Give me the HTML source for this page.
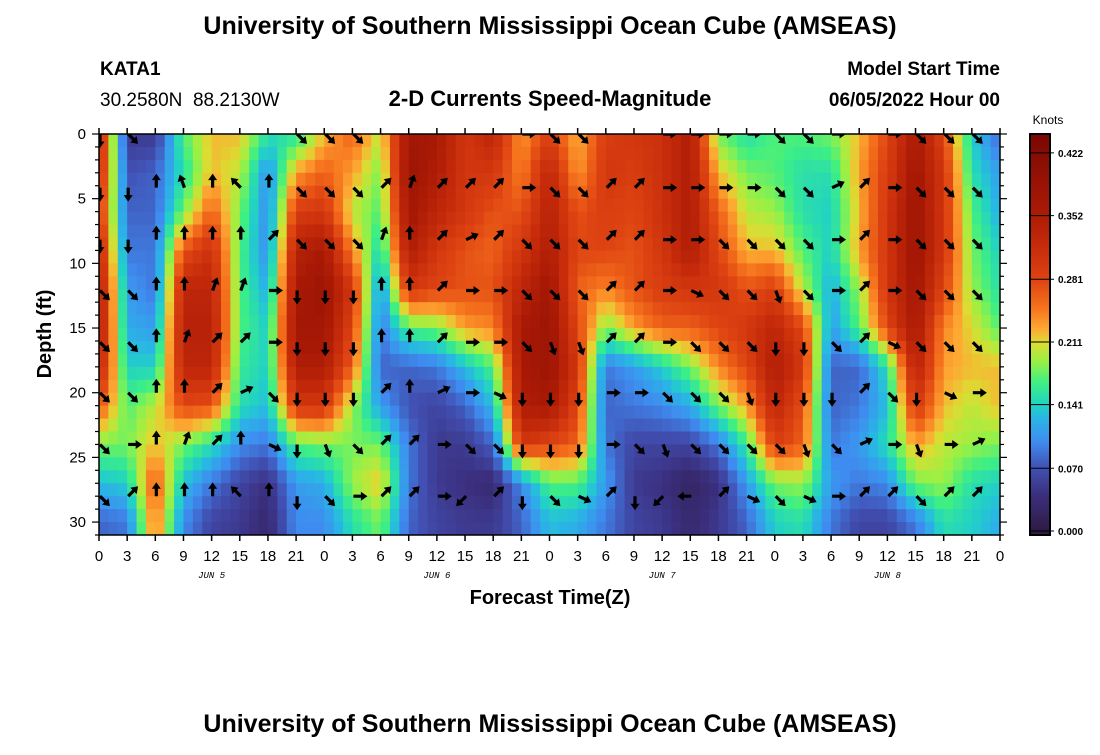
<!DOCTYPE html>
<html><head><meta charset="utf-8"><style>
body{margin:0;background:#fff;width:1100px;height:750px;overflow:hidden;font-family:"Liberation Sans",sans-serif;}
</style></head><body>
<svg id="chart" width="1100" height="750" xmlns="http://www.w3.org/2000/svg" font-family="Liberation Sans, sans-serif">
<text x="550" y="34" font-size="25" font-weight="bold" text-anchor="middle">University of Southern Mississippi Ocean Cube (AMSEAS)</text>
<text x="100" y="75" font-size="19" font-weight="bold">KATA1</text>
<text x="100" y="106" font-size="19">30.2580N&#160; 88.2130W</text>
<text x="550" y="106" font-size="22" font-weight="bold" text-anchor="middle">2-D Currents Speed-Magnitude</text>
<text x="1000" y="75" font-size="19" font-weight="bold" text-anchor="end">Model Start Time</text>
<text x="1000" y="106" font-size="19" font-weight="bold" text-anchor="end">06/05/2022 Hour 00</text>
<defs><clipPath id="pc"><rect x="99" y="134" width="901" height="401"/></clipPath></defs>
<g id="heat" clip-path="url(#pc)"></g>
<g id="arrows" clip-path="url(#pc)"></g>
<rect x="99" y="134" width="901" height="401" fill="none" stroke="#000" stroke-width="1.5"/>
<g id="axes" font-size="15"></g>
<text transform="translate(51,334) rotate(-90)" font-size="20" font-weight="bold" text-anchor="middle">Depth (ft)</text>
<text x="550" y="604" font-size="20" font-weight="bold" text-anchor="middle">Forecast Time(Z)</text>
<g id="cbar"></g>
<text x="1048" y="124" font-size="12" text-anchor="middle">Knots</text>
<text x="550" y="732" font-size="25" font-weight="bold" text-anchor="middle">University of Southern Mississippi Ocean Cube (AMSEAS)</text>
</svg>
<script>
// time index every 3 h (0..32), depth rows (ft)
const depthRows=[0,3,6,9,12,15,18,21,24,27,30];
const speeds=[
[.33,.32,.30,.33,.35,.35,.33,.27,.18,.13,.08],
[.05,.07,.08,.09,.11,.12,.14,.17,.18,.14,.09],
[.05,.08,.08,.09,.09,.11,.14,.20,.22,.27,.25],
[.17,.15,.18,.27,.33,.34,.33,.28,.18,.13,.10],
[.22,.22,.26,.31,.33,.34,.33,.27,.15,.09,.06],
[.22,.20,.18,.17,.17,.17,.16,.15,.10,.06,.05],
[.15,.10,.10,.10,.12,.14,.14,.13,.09,.04,.03],
[.15,.23,.29,.34,.36,.37,.35,.30,.17,.11,.10],
[.22,.26,.30,.36,.38,.37,.35,.30,.18,.12,.10],
[.26,.23,.20,.24,.30,.28,.26,.19,.18,.19,.15],
[.20,.18,.17,.14,.10,.09,.08,.11,.18,.22,.18],
[.37,.38,.37,.35,.30,.17,.08,.07,.09,.09,.08],
[.36,.35,.33,.30,.28,.18,.09,.06,.05,.05,.06],
[.30,.30,.30,.27,.27,.23,.13,.08,.05,.04,.05],
[.33,.30,.27,.26,.27,.24,.17,.13,.08,.03,.05],
[.23,.24,.27,.30,.33,.36,.36,.35,.30,.10,.08],
[.29,.33,.34,.35,.37,.38,.38,.36,.28,.17,.13],
[.22,.23,.27,.28,.26,.28,.30,.28,.26,.17,.12],
[.29,.30,.29,.28,.24,.18,.09,.08,.09,.11,.09],
[.30,.29,.28,.27,.27,.23,.11,.09,.06,.05,.06],
[.31,.31,.31,.30,.29,.26,.14,.10,.06,.04,.05],
[.35,.35,.35,.35,.30,.26,.18,.12,.06,.02,.03],
[.18,.22,.26,.28,.30,.28,.24,.18,.09,.04,.05],
[.15,.18,.20,.22,.27,.30,.28,.23,.16,.11,.08],
[.17,.17,.19,.22,.29,.33,.35,.33,.29,.18,.14],
[.17,.15,.15,.17,.20,.28,.30,.27,.26,.19,.15],
[.18,.15,.14,.14,.12,.11,.08,.08,.09,.11,.09],
[.22,.23,.22,.23,.19,.17,.08,.09,.11,.09,.06],
[.28,.29,.30,.30,.30,.28,.15,.13,.15,.10,.06],
[.36,.37,.38,.38,.37,.36,.34,.30,.23,.18,.09],
[.28,.30,.30,.30,.28,.24,.23,.22,.20,.19,.15],
[.14,.15,.17,.18,.19,.21,.22,.20,.19,.15,.14],
[.08,.11,.12,.14,.15,.17,.22,.22,.18,.14,.12]
];
const arrowDepths=[0,4.15,8.17,12.1,16.1,20,24,28];
const arrowDirs=[
"S SE N N N N N SE SE SE NE N NE NE NE E SE SE NE NE E E E E SE SE E NE E SE SE SE SE",
"S S N NNW N NW N SE SE SE NE NNE NE NE NE E SE SE NE NE E E E E SE SE ENE NE E SE SE SE SE",
"S S N N N N NE SE SE SE NNE N NE ENE NE SE SE SE NE NE E E SE SE SE SE E NE E SE SE SE E",
"SE SE N N NNE NNE E S S S N N NE E E SE SE SE NE NE E ESE SE SE SSE SE E NE E SE SE SE SE",
"SE SE N NNE NE NE E S S S N N NE E E SE SSE SSE NE NE E SE SE SE S S SE NE ESE SE SE SE SE",
"SE SE N N NE ENE SE S S S NE N ENE E ESE S S S E E SE SE SE SSE S S S NE SE S ESE E E",
"SE E N NNE NE N ESE S SSE SE NE NE E SE SE S S S E SE SSE SE SE SE SE SSE SE ENE E SSE E ENE ENE",
"SE NE N N N NW N S SE E NE NE E SW NE S SE ESE NE S SW W NE ESE SE ESE E NE NE SE NE NE NE"
];
const xTickLabels=["0","3","6","9","12","15","18","21"];
const dayLabels=["JUN 5","JUN 6","JUN 7","JUN 8"];
const yTicks=[0,5,10,15,20,25,30];
const cbTicks=[0.000,0.070,0.141,0.211,0.281,0.352,0.422];

const NS="http://www.w3.org/2000/svg";
const X0=99,X1=1000,Y0=134,PXH=(X1-X0)/96,PXF=401/31;
const xScale=h=>X0+h*PXH;
const yScale=d=>Y0+d*PXF;
const stops=[[0,"#2e1a44"],[.04,"#3b2f7e"],[.07,"#4150b2"],[.10,"#3f8cf0"],[.125,"#2ab4e6"],[.141,"#22d2c4"],[.165,"#3def84"],[.19,"#9cf043"],[.21,"#dcdc32"],[.225,"#fdaa33"],[.25,"#f5701c"],[.28,"#de4412"],[.32,"#c42a0a"],[.36,"#a81905"],[.42,"#860d04"],[.445,"#7a0403"]];
function hex(c){return [1,3,5].map(i=>parseInt(c.substr(i,2),16));}
function color(v){
  if(v<=stops[0][0])return stops[0][1];
  for(let i=1;i<stops.length;i++){if(v<=stops[i][0]){const a=stops[i-1],b=stops[i];const f=(v-a[0])/(b[0]-a[0]);const ca=hex(a[1]),cb=hex(b[1]);return "rgb("+ca.map((x,k)=>Math.round(x+(cb[k]-x)*f)).join(",")+")";}}
  return stops[stops.length-1][1];
}
function sample(h,d){
  const ti=Math.min(h/3,31.999),i=Math.floor(ti),ft=ti-i;
  let dd=Math.min(d,29.999);let j=0;while(j<depthRows.length-2&&depthRows[j+1]<=dd)j++;
  const fd=(dd-depthRows[j])/(depthRows[j+1]-depthRows[j]);
  const a=speeds[i][j],b=speeds[i+1][j],c=speeds[i][j+1],e=speeds[i+1][j+1];
  return (a*(1-ft)+b*ft)*(1-fd)+(c*(1-ft)+e*ft)*fd;
}
const heat=document.getElementById('heat');
for(let h=0;h<96;h++){for(let d=0;d<31;d++){
  const r=document.createElementNS(NS,'rect');
  
  
  r.setAttribute('x',xScale(h));r.setAttribute('y',yScale(d));
  r.setAttribute('width',PXH+0.6);r.setAttribute('height',PXF+0.6);
  r.setAttribute('fill',color(sample(h+0.5,d+0.5)));
  heat.appendChild(r);
}}
const ang={N:0,NNE:20,NE:45,ENE:65,E:90,ESE:115,SE:135,SSE:160,S:180,SSW:200,SW:225,WSW:245,W:270,WNW:295,NW:315,NNW:340};
const arrows=document.getElementById('arrows');
arrowDirs.forEach((row,ri)=>{row.split(" ").forEach((c,ti)=>{
  const x=xScale(ti*3)+1,y=yScale(arrowDepths[ri]);
  const g=document.createElementNS(NS,'path');
  
  
  g.setAttribute('d','M-1.6,0 L-1.6,-7.5 L-4.5,-7.5 L0,-14 L4.5,-7.5 L1.6,-7.5 L1.6,0 Z');
  g.setAttribute('fill','#000');
  g.setAttribute('transform','translate('+x+','+y+') rotate('+ang[c]+')');
  arrows.appendChild(g);
});});
const axes=document.getElementById('axes');
function el(tag,attrs,txt){const e=document.createElementNS(NS,tag);for(const k in attrs)e.setAttribute(k,attrs[k]);if(txt!==undefined)e.textContent=txt;axes.appendChild(e);return e;}
for(let t=0;t<=32;t++){
  const x=xScale(t*3);
  const tk=el('line',{x1:x,x2:x,y1:535,y2:541,stroke:'#000','stroke-width':1.5});
  
  
  const tt=el('line',{x1:x,x2:x,y1:128,y2:134,stroke:'#000','stroke-width':1.5});
  
  
  const lb=el('text',{x:x,y:561,'text-anchor':'middle'},xTickLabels[t%8]);
  
  
}
dayLabels.forEach((s,i)=>{
  const t=el('text',{x:xScale(i*24+12),y:578,'text-anchor':'middle','font-size':9,'font-style':'italic','font-family':'Liberation Mono, monospace'},s);
  
  
});
for(let d=0;d<=31;d++){
  const y=yScale(d),len=d%5===0?7:4;
  const a=el('line',{x1:99-len,x2:99,y1:y,y2:y,stroke:'#000','stroke-width':1.2});
  
  
  const b=el('line',{x1:1000,x2:1000+len,y1:y,y2:y,stroke:'#000','stroke-width':1.2});
  
  
}
yTicks.forEach(v=>{
  const t=el('text',{x:86,y:yScale(v)+5,'text-anchor':'end'},String(v));
  
  
});
// colorbar
const cb=document.getElementById('cbar');
const cbY=v=>531-v*896;
for(let y=134;y<535;y++){
  const v=(531-y-0.5)/896;
  const r=document.createElementNS(NS,'rect');
  
  
  r.setAttribute('x',1030);r.setAttribute('y',y);r.setAttribute('width',20);r.setAttribute('height',1.2);
  r.setAttribute('fill',color(Math.max(0,v)));
  cb.appendChild(r);
}
const fr=document.createElementNS(NS,'rect');


fr.setAttribute('x',1030);fr.setAttribute('y',134);fr.setAttribute('width',20);fr.setAttribute('height',401);
fr.setAttribute('fill','none');fr.setAttribute('stroke','#000');fr.setAttribute('stroke-width',2);
cb.appendChild(fr);
cbTicks.forEach(v=>{
  const y=cbY(v);
  const l=document.createElementNS(NS,'line');
  
  
  l.setAttribute('x1',1030);l.setAttribute('x2',1054);l.setAttribute('y1',y);l.setAttribute('y2',y);
  l.setAttribute('stroke','#000');l.setAttribute('stroke-width',1);
  cb.appendChild(l);
  const t=document.createElementNS(NS,'text');
  
  
  t.setAttribute('x',1058);t.setAttribute('y',y+4);t.setAttribute('font-size',10);t.setAttribute('font-weight','bold');
  t.textContent=v.toFixed(3);
  cb.appendChild(t);
});
</script>
</body></html>
